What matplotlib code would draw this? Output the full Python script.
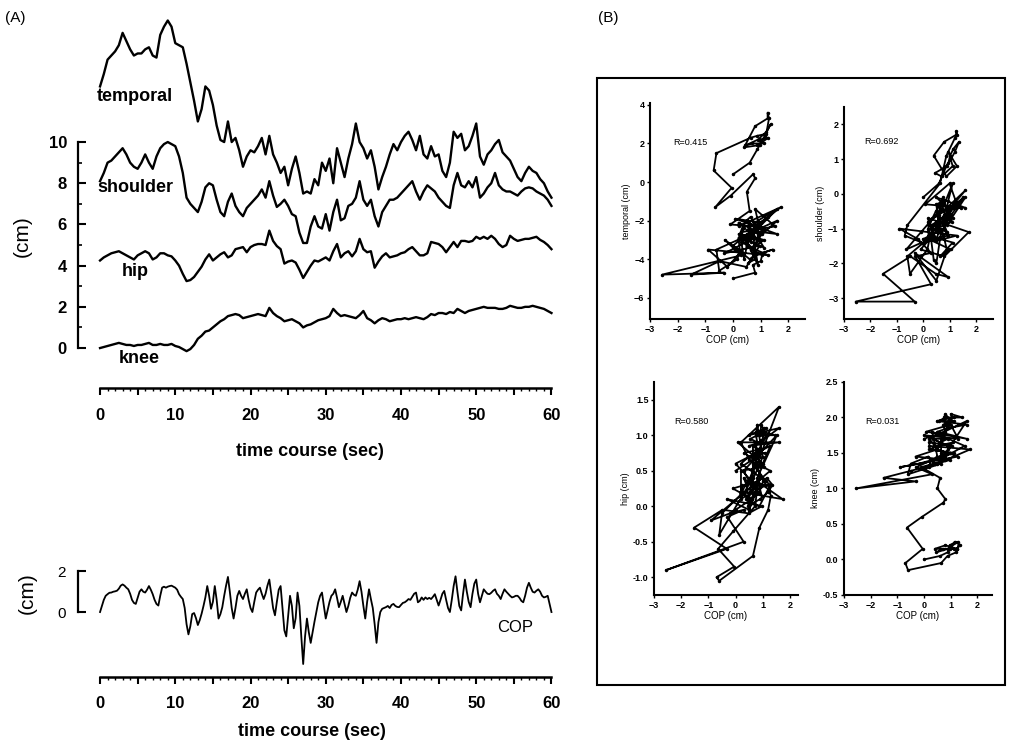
import numpy as np
import matplotlib.pyplot as plt
from matplotlib.patches import Rectangle
from matplotlib.ticker import FixedLocator

plt.rcParams['font.family'] = ['Liberation Sans', 'DejaVu Sans']

# segment traces, sampled every 0.5 s (cm)
temporal = [12.7, 13.3, 14.0, 14.2, 14.4, 14.7, 15.3, 14.9, 14.5, 14.2,
            14.3, 14.3, 14.5, 14.6, 14.2, 14.1, 15.2, 15.6, 15.9, 15.6,
            14.8, 14.7, 14.6, 13.8, 12.9, 12.0, 11.0, 11.6, 12.7, 12.5,
            11.8, 10.8, 10.1, 10.0, 11.0, 10.0, 10.2, 9.6, 8.8, 9.3,
            9.6, 9.5, 9.8, 10.2, 9.4, 10.3, 9.4, 9.0, 8.5, 8.8,
            7.9, 8.7, 9.3, 8.5, 7.5, 7.6, 7.5, 8.2, 7.9, 9.0,
            8.6, 9.2, 8.0, 9.7, 9.0, 8.3, 9.2, 9.9, 10.9, 10.0,
            9.7, 9.2, 9.6, 8.8, 7.7, 8.3, 8.8, 9.4, 9.9, 9.6,
            10.0, 10.3, 10.5, 10.1, 9.6, 10.3, 9.4, 9.2, 9.8, 9.3,
            9.4, 8.6, 8.3, 9.0, 10.5, 10.2, 10.4, 9.6, 9.8, 10.3,
            10.9, 9.3, 8.9, 9.4, 9.6, 9.9, 10.1, 9.5, 9.3, 9.1,
            8.7, 8.3, 8.1, 8.5, 8.8, 8.6, 8.5, 8.2, 8.0, 7.6, 7.3]
shoulder = [8.1, 8.5, 9.0, 9.1, 9.3, 9.5, 9.7, 9.4, 9.0, 8.8,
            8.7, 9.0, 9.4, 9.0, 8.7, 9.3, 9.7, 9.9, 10.0, 9.9,
            9.8, 9.3, 8.5, 7.3, 7.0, 6.8, 6.6, 7.1, 7.8, 8.0,
            7.9, 7.2, 6.6, 6.4, 7.1, 7.5, 6.9, 6.6, 6.4, 6.8,
            7.0, 7.2, 7.4, 7.7, 7.3, 8.1, 7.4, 6.85, 7.0, 7.2,
            6.9, 6.5, 6.4, 5.6, 5.1, 5.1, 5.9, 6.4, 5.9, 5.8,
            6.5, 5.7, 6.6, 7.2, 6.2, 6.3, 6.9, 7.0, 7.3, 8.1,
            7.2, 6.9, 7.2, 6.4, 5.9, 6.6, 6.9, 7.2, 7.2, 7.3,
            7.5, 7.7, 7.9, 8.1, 7.6, 7.2, 7.6, 7.9, 7.75, 7.6,
            7.3, 7.1, 6.9, 6.8, 7.9, 8.5, 7.9, 7.8, 8.1, 7.8,
            8.3, 7.3, 7.5, 7.8, 8.0, 8.5, 7.9, 7.7, 7.6, 7.6,
            7.5, 7.4, 7.6, 7.75, 7.8, 7.75, 7.6, 7.5, 7.4, 7.2, 6.9]
hip = [4.25, 4.4, 4.5, 4.6, 4.65, 4.7, 4.6, 4.5, 4.4, 4.3,
       4.5, 4.6, 4.7, 4.6, 4.3, 4.4, 4.6, 4.6, 4.5, 4.45,
       4.25, 4.0, 3.6, 3.25, 3.3, 3.45, 3.7, 3.95, 4.3, 4.55,
       4.25, 4.4, 4.55, 4.65, 4.4, 4.5, 4.8, 4.85, 4.9, 4.65,
       4.9, 5.0, 5.05, 5.05, 5.0, 5.7, 5.2, 4.95, 4.8, 4.1,
       4.2, 4.25, 4.15, 3.8, 3.4, 3.7, 4.0, 4.25, 4.2, 4.3,
       4.4, 4.25, 4.7, 5.05, 4.4, 4.6, 4.7, 4.45, 4.7, 5.3,
       4.8, 4.65, 4.7, 3.9, 4.2, 4.45, 4.6, 4.4, 4.45, 4.5,
       4.6, 4.65, 4.8, 4.9, 4.7, 4.5, 4.5, 4.6, 5.15, 5.1,
       5.05, 4.9, 4.65, 4.9, 5.15, 4.9, 5.2, 5.2, 5.15, 5.2,
       5.4, 5.3, 5.4, 5.3, 5.45, 5.3, 5.05, 4.9, 5.0, 5.45,
       5.3, 5.2, 5.25, 5.3, 5.3, 5.35, 5.4, 5.25, 5.15, 5.0, 4.8]
knee = [0.0, 0.05, 0.1, 0.15, 0.2, 0.25, 0.2, 0.15, 0.15, 0.1,
        0.15, 0.15, 0.2, 0.25, 0.15, 0.15, 0.2, 0.15, 0.15, 0.2,
        0.1, 0.05, -0.05, -0.15, -0.05, 0.15, 0.45, 0.6, 0.8, 0.85,
        1.0, 1.15, 1.3, 1.4, 1.55, 1.6, 1.65, 1.6, 1.45, 1.5,
        1.55, 1.6, 1.65, 1.6, 1.55, 1.95, 1.7, 1.55, 1.45, 1.3,
        1.35, 1.4, 1.3, 1.2, 1.0, 1.1, 1.15, 1.25, 1.35, 1.4,
        1.45, 1.55, 1.9, 1.7, 1.55, 1.6, 1.55, 1.5, 1.45, 1.6,
        1.8, 1.45, 1.35, 1.2, 1.35, 1.45, 1.4, 1.3, 1.35, 1.4,
        1.4, 1.45, 1.4, 1.45, 1.5, 1.45, 1.4, 1.5, 1.65, 1.6,
        1.7, 1.7, 1.65, 1.75, 1.7, 1.9, 1.8, 1.7, 1.8, 1.85,
        1.9, 1.95, 2.0, 1.95, 1.95, 1.95, 1.9, 1.9, 1.95, 2.05,
        2.0, 1.95, 1.95, 2.0, 2.0, 2.05, 2.0, 1.95, 1.9, 1.8, 1.7]

# centre of pressure, sampled every 0.25 s (cm)
cop = [0.0, 0.3, 0.6, 0.8, 0.88, 0.95, 0.96, 1.0, 1.02, 1.05, 1.15, 1.3,
       1.36, 1.3, 1.2, 1.12, 0.9, 0.6, 0.45, 0.4, 0.7, 1.0, 1.12, 1.0,
       0.96, 1.1, 1.28, 1.1, 0.88, 0.6, 0.4, 0.32, 0.8, 1.2, 1.25, 1.2,
       1.25, 1.28, 1.3, 1.25, 1.2, 1.1, 0.88, 0.75, 0.64, 0.2, -0.6, -1.1,
       -0.7, -0.1, -0.05, -0.3, -0.64, -0.4, -0.08, 0.3, 0.72, 1.28, 0.8, 0.16,
       0.5, 1.28, 0.6, -0.32, -0.1, 0.24, 0.8, 1.3, 1.73, 1.0, 0.2, -0.32,
       0.2, 0.8, 1.04, 0.8, 0.64, 0.9, 1.12, 0.6, 0.2, 0.0, 0.5, 0.96,
       1.1, 1.2, 0.9, 0.64, 0.9, 1.3, 1.6, 0.9, 0.2, -0.16, 0.5, 1.1,
       1.28, 0.2, -0.9, -1.2, -0.2, 0.8, 0.3, -0.8, -0.3, 0.96, 0.3, -1.2,
       -2.56, -1.2, -0.32, -1.0, -1.52, -1.0, -0.48, 0.0, 0.48, 0.8, 0.96, 0.3,
       -0.32, 0.1, 0.5, 0.8, 0.9, 1.12, 0.7, 0.24, 0.5, 0.8, 0.4, 0.0,
       0.3, 0.7, 0.96, 0.85, 0.8, 1.1, 1.52, 1.0, 0.3, -0.32, 0.5, 1.12,
       0.64, 0.2, -0.6, -1.52, -0.5, 0.0, 0.16, 0.2, 0.24, 0.3, 0.2, 0.35,
       0.4, 0.3, 0.25, 0.24, 0.35, 0.45, 0.48, 0.55, 0.64, 0.6, 0.75, 0.9,
       0.96, 0.48, 0.55, 0.72, 0.6, 0.72, 0.64, 0.7, 0.64, 0.75, 0.88, 0.6,
       0.32, 0.6, 0.9, 1.04, 0.6, 0.2, 0.0, 0.6, 1.28, 1.76, 1.0, 0.3,
       0.08, 0.9, 1.6, 1.0, 0.5, 0.24, 0.9, 1.4, 1.6, 0.9, 0.48, 0.8,
       1.12, 1.0, 0.9, 0.88, 0.95, 1.05, 1.12, 0.9, 0.8, 0.64, 0.9, 1.12,
       1.0, 0.9, 0.8, 0.72, 0.75, 0.8, 0.8, 0.7, 0.55, 0.48, 0.8, 1.2,
       1.44, 1.2, 1.0, 0.96, 1.05, 1.12, 1.0, 0.8, 0.72, 0.75, 0.8, 0.4,
       0.0]

t_seg = np.linspace(0, 60, len(temporal))
t_cop = np.linspace(0, 60, len(cop))

seg_names = ['temporal', 'shoulder', 'hip', 'knee']
seg_label_pos = [(-0.5, 12.2, 'left'), (-0.4, 7.8, 'left'),
                 (4.65, 3.7, 'center'), (5.2, -0.5, 'center')]
# offsets used in panel (B) and the correlation values printed there
scatter_offset = [12.3, 8.2, 4.3, 0.0]
r_values = ['R=0.415', 'R=0.692', 'R=0.580', 'R=0.031']

fig = plt.figure(figsize=(10.09, 7.43), dpi=100)


def time_axis(a, bottom_y):
    for s in ['top', 'right']:
        a.spines[s].set_visible(False)
    a.spines['bottom'].set_position(('data', bottom_y))
    a.spines['bottom'].set_bounds(0, 60)
    a.spines['left'].set_linewidth(1.6)
    a.spines['bottom'].set_linewidth(1.8)
    a.set_xlim(-2.93, 61)
    a.set_xticks(range(0, 61, 5))
    a.set_xticklabels([str(v) if v % 10 == 0 else '' for v in range(0, 61, 5)])
    a.xaxis.set_minor_locator(FixedLocator(range(0, 61)))
    a.tick_params(axis='x', which='major', direction='out', length=5, width=1.5,
                  labelsize=12, pad=9)
    a.tick_params(axis='x', which='minor', direction='out', length=2, width=1)
    for lab in a.get_xticklabels():
        lab.set_fontweight('bold')


# ---------- (A) upper: segment traces ----------
ax = fig.add_axes([0.0773, 0.4678, 0.4767, 0.5157])
for name, y, (lx, ly, ha) in zip(seg_names, [temporal, shoulder, hip, knee], seg_label_pos):
    ax.plot(t_seg, y, color='black', lw=1.7)
    ax.text(lx, ly, name, fontsize=13, fontweight='bold', ha=ha, va='center')
ax.set_ylim(-2.3, 16.3)
time_axis(ax, -1.95)
ax.spines['left'].set_bounds(0, 10)
ax.set_yticks([0, 2, 4, 6, 8, 10])
ax.yaxis.set_minor_locator(FixedLocator([1, 3, 5, 7, 9]))
ax.tick_params(axis='y', which='major', direction='in', length=6, width=1.5,
               labelsize=12, pad=8)
ax.tick_params(axis='y', which='minor', direction='in', length=3, width=1.2)
for lab in ax.get_yticklabels():
    lab.set_fontweight('bold')
fig.text(22 / 1009, 1 - 236 / 743, '(cm)', rotation=90, fontsize=15,
         ha='center', va='center')
fig.text(310 / 1009, 1 - 452 / 743, 'time course (sec)', fontsize=13,
         fontweight='bold', ha='center', va='center')

# ---------- (A) lower: COP ----------
ax2 = fig.add_axes([0.0773, 0.0861, 0.4767, 0.153])
ax2.plot(t_cop, cop, color='black', lw=1.3)
ax2.text(55.2, -0.75, 'COP', fontsize=12, ha='center', va='center')
ax2.set_ylim(-3.3, 2.3)
time_axis(ax2, -3.2)
ax2.spines['left'].set_bounds(0, 2)
ax2.set_yticks([0, 2])
ax2.tick_params(axis='y', direction='in', length=6, width=1.5, labelsize=11, pad=9)
fig.text(27 / 1009, 1 - 593 / 743, '(cm)', rotation=90, fontsize=15,
         ha='center', va='center')
fig.text(312 / 1009, 1 - 731 / 743, 'time course (sec)', fontsize=13,
         fontweight='bold', ha='center', va='center')

# ---------- (B) COP vs segment ----------
b_rects = [[0.6442, 0.5707, 0.1536, 0.2907],
           [0.8365, 0.5707, 0.1477, 0.2853],
           [0.6482, 0.1992, 0.1427, 0.2867],
           [0.8365, 0.1992, 0.1467, 0.2867]]
b_xlim = [(-3, 2.6), (-3, 2.65), (-3, 2.3), (-3, 2.55)]
b_ylim = [(-7.1, 4.1), (-3.6, 2.5), (-1.25, 1.75), (-0.5, 2.5)]
b_yticks = [[-6, -4, -2, 0, 2, 4], [-3, -2, -1, 0, 1, 2],
            [-1.0, -0.5, 0.0, 0.5, 1.0, 1.5], [-0.5, 0.0, 0.5, 1.0, 1.5, 2.0, 2.5]]
b_text_pos = [(-1.55, 2.03), (-1.6, 1.5), (-1.64, 1.19), (-1.57, 1.94)]
cop_half = np.array(cop)[::2]

for i, y in enumerate([temporal, shoulder, hip, knee]):
    bx = fig.add_axes(b_rects[i])
    bx.plot(cop_half, np.array(y) - scatter_offset[i], color='black', lw=1.3,
            marker='.', ms=3)
    bx.set_xlim(*b_xlim[i])
    bx.set_ylim(*b_ylim[i])
    bx.set_xticks([-3, -2, -1, 0, 1, 2])
    bx.set_yticks(b_yticks[i])
    if i >= 2:
        bx.set_yticklabels(['%.1f' % v for v in b_yticks[i]])
    for s in ['top', 'right']:
        bx.spines[s].set_visible(False)
    for s in ['left', 'bottom']:
        bx.spines[s].set_linewidth(1.5)
    bx.tick_params(direction='out', length=2, width=1, labelsize=6.5, pad=2)
    for lab in bx.get_xticklabels() + bx.get_yticklabels():
        lab.set_fontweight('bold')
    bx.set_xlabel('COP (cm)', fontsize=7, labelpad=1)
    bx.set_ylabel(seg_names[i] + ' (cm)', fontsize=6.5, labelpad=2)
    bx.text(b_text_pos[i][0], b_text_pos[i][1], r_values[i], fontsize=6.5,
            ha='center', va='center')

fig.patches.append(Rectangle((597 / 1009, 58 / 743), 408 / 1009, 607 / 743,
                             transform=fig.transFigure, fill=False,
                             lw=1.5, edgecolor='black'))

fig.text(5 / 1009, 1 - 18 / 743, '(A)', fontsize=11, ha='left', va='center')
fig.text(598 / 1009, 1 - 18 / 743, '(B)', fontsize=11, ha='left', va='center')

fig.savefig('out.png', dpi=100)
